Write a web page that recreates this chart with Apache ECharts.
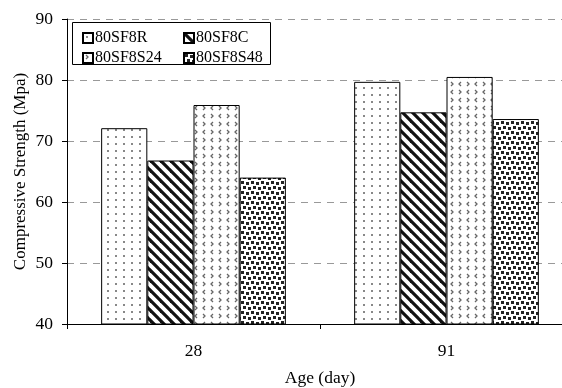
<!DOCTYPE html>
<html><head><meta charset="utf-8">
<script src="https://cdn.jsdelivr.net/npm/echarts@6/dist/echarts.min.js"></script>
<style>html,body{margin:0;padding:0;background:#fff}#c{width:562px;height:388px}</style>
</head><body><div id="c"></div>
<script>
var categories = ['28', '91'];
var seriesNames = ['80SF8R', '80SF8C', '80SF8S24', '80SF8S48'];
var s80SF8R = [72.1, 79.7];
var s80SF8C = [66.8, 74.7];
var s80SF8S24 = [75.9, 80.5];
var s80SF8S48 = [64.0, 73.6];
var yTicks = [40, 50, 60, 70, 80, 90];

function tile(w, h, draw) {
  var c = document.createElement('canvas'); c.width = w; c.height = h;
  var g = c.getContext('2d'); g.fillStyle = '#fff'; g.fillRect(0, 0, w, h); draw(g); return c;
}
var patDots = tile(8, 7, function (g) { g.fillStyle = '#888'; g.fillRect(3, 3, 2, 2); });
var patStripe = tile(10, 10, function (g) {
  g.strokeStyle = '#111'; g.lineWidth = 3.2;
  for (var k = -1; k <= 1; k++) { g.beginPath(); g.moveTo(-5 + k * 10, -5); g.lineTo(15 + k * 10, 15); g.stroke(); }
});
var patChev = tile(16, 16, function (g) {
  g.strokeStyle = '#666'; g.lineWidth = 1.3;
  function lt(x, y) { g.beginPath(); g.moveTo(x + 2, y - 2); g.lineTo(x, y); g.lineTo(x + 2, y + 2); g.stroke(); }
  function gt(x, y) { g.beginPath(); g.moveTo(x, y - 2); g.lineTo(x + 2, y); g.lineTo(x, y + 2); g.stroke(); }
  gt(3, 4); lt(11, 4); lt(3, 12); gt(11, 12);
});
var patSq = tile(10, 10, function (g) {
  g.fillStyle = '#222';
  g.fillRect(1, 1, 3, 3); g.fillRect(6, 2, 3, 3); g.fillRect(3, 6, 3, 3); g.fillRect(8, 7, 2, 3); g.fillRect(0, 7, 1, 3);
});
var pats = [patDots, patStripe, patChev, patSq];
var dataArr = [s80SF8R, s80SF8C, s80SF8S24, s80SF8S48];

var font = 'Liberation Serif, Times New Roman, serif';
var legendBase = {
  orient: 'vertical', top: 25, icon: 'rect',
  itemWidth: 10, itemHeight: 10, itemGap: 4,
  textStyle: { fontFamily: font, fontSize: 16, color: '#000', padding: [0, 0, 0, -3] }
};
var chart = echarts.init(document.getElementById('c'));
chart.setOption({
  animation: false,
  textStyle: { fontFamily: font },
  grid: { left: 67, top: 19, height: 305, width: 506, containLabel: false, outerBoundsMode: 'none' },
  legend: [
    Object.assign({}, legendBase, { left: 77, data: ['80SF8R', '80SF8S24'] }),
    Object.assign({}, legendBase, { left: 178, data: ['80SF8C', '80SF8S48'] })
  ],
  graphic: [{ type: 'rect', shape: { x: 72.5, y: 22.5, width: 198, height: 42 },
    style: { fill: 'none', stroke: '#000', lineWidth: 1 }, z: 100 }],
  xAxis: {
    type: 'category', data: categories,
    name: 'Age (day)', nameLocation: 'middle', nameGap: 45, nameMoveOverlap: false,
    nameTextStyle: { fontFamily: font, fontSize: 17.5, color: '#000' },
    axisLine: { lineStyle: { color: '#000', width: 1 } },
    axisTick: { show: true, length: 5, lineStyle: { color: '#000' } },
    axisLabel: { margin: 18, fontSize: 17.5, color: '#000', fontFamily: font }
  },
  yAxis: {
    type: 'value', min: 40, max: 90, interval: 10,
    name: 'Compressive Strength (Mpa)', nameLocation: 'middle', nameGap: 38, nameMoveOverlap: false,
    nameTextStyle: { fontFamily: font, fontSize: 17, color: '#000' },
    axisLine: { show: true, lineStyle: { color: '#000', width: 1 } },
    axisTick: { show: true, length: 5, lineStyle: { color: '#000' } },
    axisLabel: { margin: 14, fontSize: 17.5, color: '#000', fontFamily: font,
      formatter: function (v) { return yTicks.indexOf(v) >= 0 ? String(v) : ''; } },
    splitLine: { show: true, lineStyle: { color: '#999', type: [7, 6], width: 1 } }
  },
  series: seriesNames.map(function (n, i) {
    return {
      name: n, type: 'bar', data: dataArr[i], barGap: '0%', barCategoryGap: '27%',
      itemStyle: { color: { image: pats[i], repeat: 'repeat' }, borderColor: '#000', borderWidth: 1 }
    };
  })
});
</script></body></html>
